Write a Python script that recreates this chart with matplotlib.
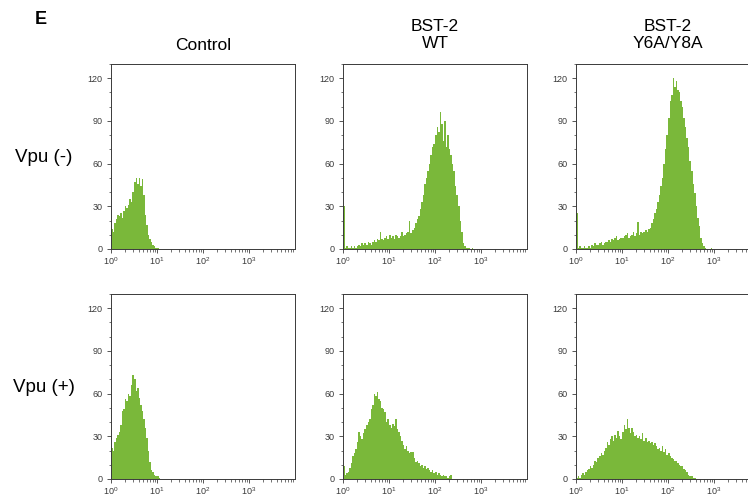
import numpy as np
import matplotlib
matplotlib.use("Agg")
import matplotlib.pyplot as plt
from matplotlib.ticker import FixedLocator, MultipleLocator, NullFormatter

plt.rcParams['font.family'] = ['Liberation Sans', 'DejaVu Sans']
plt.rcParams['mathtext.fontset'] = 'custom'
plt.rcParams['mathtext.rm'] = 'Liberation Sans'
plt.rcParams['mathtext.it'] = 'Liberation Sans'

# Flow cytometry channel counts, 30 channels per decade starting at 10^0
BINS_PER_DECADE = 30

ctrl_neg = [14, 12, 18, 21, 24, 23, 25, 22, 27, 30, 29, 31, 35, 33, 40, 47, 50,
            46, 50, 44, 49, 38, 24, 17, 10, 7, 5, 3, 2, 1, 1, 0, 0]

wt_neg = [30, 1, 2, 1, 1, 2, 1, 2, 1, 2,
          3, 2, 4, 3, 4, 3, 5, 4, 3, 5,
          6, 5, 7, 6, 12, 7, 6, 8, 9, 7,
          10, 8, 9, 7, 10, 9, 8, 9, 12, 9,
          10, 11, 12, 20, 11, 13, 15, 18, 21, 23,
          28, 33, 38, 46, 50, 55, 60, 66, 72, 74,
          80, 86, 82, 96, 88, 76, 90, 72, 80, 70,
          66, 60, 55, 44, 38, 30, 20, 12, 4, 2,
          1, 1, 1, 0, 1, 0]

y6_neg = [25, 1, 2, 1, 1, 2, 1, 1, 2, 1,
          3, 2, 4, 3, 3, 4, 5, 3, 4, 5,
          5, 6, 5, 7, 6, 8, 9, 6, 7, 8,
          8, 9, 10, 11, 8, 9, 10, 12, 9, 11,
          19, 10, 12, 11, 12, 13, 12, 14, 15, 18,
          21, 25, 28, 33, 38, 44, 50, 60, 70, 80,
          92, 104, 108, 120, 114, 118, 112, 110, 104, 100,
          92, 86, 78, 72, 62, 55, 46, 39, 30, 22,
          16, 8, 4, 2, 1, 0, 0, 0, 1, 0]

ctrl_pos = [22, 20, 26, 29, 31, 33, 38, 48, 49, 56,
            55, 60, 58, 66, 73, 70, 62, 64, 57, 52,
            48, 42, 36, 29, 20, 12, 6, 5, 3, 2, 2, 1]

wt_pos = [9, 3, 4, 5, 8, 11, 16, 18, 21, 26,
          33, 30, 28, 32, 35, 38, 40, 42, 49, 52,
          60, 58, 61, 56, 55, 50, 49, 47, 40, 42,
          38, 36, 39, 37, 42, 35, 33, 30, 27, 24,
          21, 23, 20, 18, 19, 19, 15, 12, 13, 11,
          9, 10, 8, 9, 7, 8, 6, 5, 6, 4,
          5, 3, 4, 3, 2, 3, 2, 2, 1, 2,
          3, 0]

y6_pos = [1, 2, 1, 3, 4, 3, 5, 6, 7, 9,
          8, 10, 13, 12, 15, 16, 18, 17, 20, 22,
          26, 24, 28, 30, 27, 31, 29, 34, 30, 28,
          33, 38, 35, 42, 36, 32, 36, 33, 30, 31,
          29, 30, 28, 32, 27, 29, 26, 27, 25, 26,
          24, 25, 23, 21, 22, 20, 23, 19, 21, 17,
          18, 16, 15, 14, 13, 13, 11, 10, 9, 9,
          7, 6, 5, 3, 2, 2, 1, 1]

col_titles = ["Control", "BST-2\nWT", "BST-2\nY6A/Y8A"]
row_titles = ["Vpu (-)", "Vpu (+)"]
panels = [[ctrl_neg, wt_neg, y6_neg], [ctrl_pos, wt_pos, y6_pos]]

x_ticks = [1, 10, 100, 1000]
x_ticklabels = [r"$10^0$", r"$10^1$", r"$10^2$", r"$10^3$"]
y_ticks = [0, 30, 60, 90, 120]

GREEN = "#7ab83a"
SPINE = "#3a3a3a"

W, H = 748, 499
fig = plt.figure(figsize=(W / 100, H / 100), dpi=100)

col_left = [111, 343, 576]   # pixel positions of the panels
row_top = [64, 294]
ax_w, ax_h = 184, 185

for r in range(2):
    for c in range(3):
        counts = np.array(panels[r][c], dtype=float)
        edges = 10 ** (np.arange(len(counts) + 1) / BINS_PER_DECADE)
        ax = fig.add_axes([col_left[c] / W, 1 - (row_top[r] + ax_h) / H,
                           ax_w / W, ax_h / H])
        ax.stairs(counts, edges, fill=True, color=GREEN, linewidth=0)
        ax.set_xscale("log")
        ax.set_xlim(1, 1e4)
        ax.set_ylim(0, 130)

        ax.xaxis.set_major_locator(FixedLocator(x_ticks))
        ax.set_xticklabels(x_ticklabels)
        minors = [m * 10 ** d for d in range(4) for m in range(2, 10)]
        ax.xaxis.set_minor_locator(FixedLocator(minors))
        ax.xaxis.set_minor_formatter(NullFormatter())
        ax.set_yticks(y_ticks)
        ax.yaxis.set_minor_locator(MultipleLocator(10))

        ax.tick_params(which="major", length=3.2, width=0.6, colors=SPINE,
                       labelsize=6.5, direction="out")
        ax.tick_params(which="minor", length=1.8, width=0.5, colors=SPINE,
                       direction="out")
        ax.tick_params(axis="x", pad=1.5)
        ax.tick_params(axis="y", pad=3)
        for sp in ax.spines.values():
            sp.set_color(SPINE)
            sp.set_linewidth(0.7)

for c, title in enumerate(col_titles):
    xc = (col_left[c] + ax_w / 2) / W
    if "\n" in title:
        fig.text(xc, 1 - 35 / H, title, ha="center", va="center",
                 fontsize=12.5, linespacing=1.15)
    else:
        fig.text(xc, 1 - 46 / H, title, ha="center", va="center", fontsize=12.5)

fig.text(44 / W, 1 - 157 / H, row_titles[0], ha="center", va="center", fontsize=13.5)
fig.text(44 / W, 1 - 388 / H, row_titles[1], ha="center", va="center", fontsize=13.5)
fig.text(41 / W, 1 - 20 / H, "E", ha="center", va="center", fontsize=13,
         fontweight="bold")

fig.savefig("out.png", dpi=100)
